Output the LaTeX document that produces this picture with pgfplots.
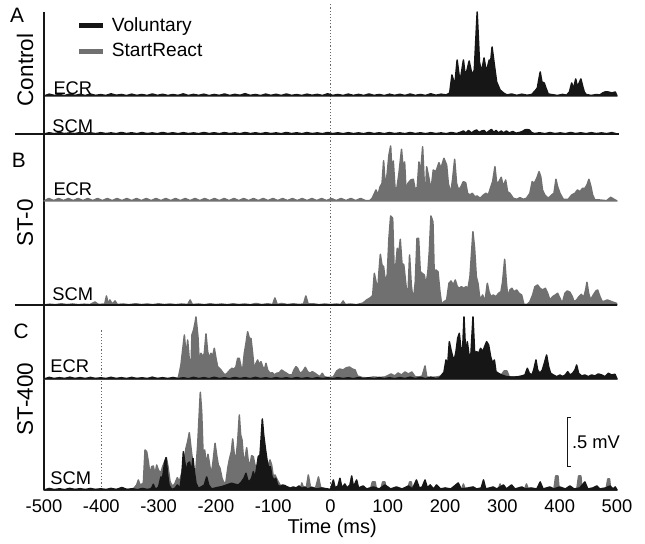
\documentclass[border=0pt]{standalone}
\usepackage{fontspec}
\setmainfont{Liberation Sans}
\usepackage{pgfplots}
\pgfplotsset{compat=1.18}
\definecolor{vol}{RGB}{22,22,22}
\definecolor{sr}{RGB}{112,112,112}
\begin{document}
\begin{tikzpicture}
\begin{axis}[
  x=0.3438pt, y=0.6pt,
  xmin=-500, xmax=500, ymin=0, ymax=478,
  axis x line*=bottom, axis y line*=left,
  axis line style={line width=0.8pt, vol},
  xtick={-500,-400,...,500}, ytick=\empty,
  major tick length=0pt,
  /pgf/number format/assume math mode=true,
  xticklabel style={font=\fontsize{11}{12}\selectfont, yshift=-2.5pt},
  xlabel={Time (ms)},
  xlabel style={font=\fontsize{12}{14}\selectfont, at={(axis description cs:0.503,-0.08)}, anchor=center},
  clip=false,
  legend style={at={(axis cs:-443,476)}, anchor=north west, draw=none, fill=none,
    font=\fontsize{11.5}{13}\selectfont, inner sep=0pt, row sep=1.5pt},
  legend cell align=left,
  legend image code/.code={\draw[#1, line width=3pt] (0pt,0pt) -- (14.4pt,0pt);},
  trace/.style={line width=0.9pt, line join=round, forget plot},
]
\path (axis cs:-576.8,-49) rectangle (axis cs:548.9,490);
\addlegendimage{vol}
\addlegendentry{\hspace{1.5pt}Voluntary}
\addlegendimage{sr}
\addlegendentry{\hspace{1.5pt}StartReact}

% dotted reference lines
\draw[vol!65, line width=0.7pt, dash pattern=on 0.7pt off 1.2pt] (axis cs:0,0) -- (axis cs:0,486);
\draw[vol!65, line width=0.7pt, dash pattern=on 0.7pt off 1.2pt] (axis cs:-400,0) -- (axis cs:-400,160);

% ---------------- A: Control, ECR (voluntary) ----------------
\addplot[trace, draw=vol, fill=vol] table[y expr=\thisrow{h}+394] {
t h
-500 0
-491 1.8
-482 0.6
-473 1.5
-464 0.4
-455 2
-446 0.6
-437 1.6
-428 0.5
-419 1.9
-410 0.6
-401 1.4
-392 0.5
-383 2.2
-374 0.7
-365 1.5
-356 0.4
-347 1.8
-338 0.6
-329 1.5
-320 0.5
-311 2
-302 0.6
-293 1.7
-284 0.5
-275 1.4
-266 0.6
-257 2.1
-248 0.5
-239 1.6
-230 0.6
-221 1.8
-212 0.4
-203 1.5
-194 0.6
-185 2
-176 0.5
-167 1.6
-158 0.7
-149 2.3
-140 0.6
-131 1.5
-122 0.4
-113 1.9
-104 0.6
-95 1.7
-86 0.5
-77 2
-68 0.6
-59 1.4
-50 0.5
-41 1.8
-32 0.7
-23 1.6
-14 0.5
-5 2.2
4 0.6
13 1.5
22 0.5
31 1.9
40 0.6
49 1.6
58 0.5
67 2
76 0.6
85 1.5
94 0.4
103 1.8
112 0.6
121 1.7
130 0.5
139 2
148 0.6
157 1.5
166 0.5
175 2.2
184 0.7
193 1.8
202 1
208 3
212 21
217 11
221 36
226 14
232 36
235.5 19
242 35
247 21
251 26
256 84
260 34
263.5 24
268 38
272 24
277 36
279 31
282 49
286 31
290 14
296 6
302 3
308 1
316 2
325 0.6
334 1.8
343 0.7
351 1.5
357 5
361 8
366 24
369 14
373 13
376 8
380 2
388 1.2
396 0.5
405 1.6
412 0.8
417 4
421 13
424 7
428 17
431 9
437 17
440.5 9
443 4
446 1.5
455 0.5
464 1.4
470 1
475 3
479 4
485 4
491 3
497 4
500 0
} -- cycle;

% ---------------- A: Control, SCM (voluntary) ----------------
\addplot[trace, draw=vol, fill=vol] table[y expr=\thisrow{h}+356] {
t h
-500 0
-491 1.2
-482 0.3
-473 1.4
-464 0.4
-455 1.1
-446 0.3
-437 1.5
-428 0.4
-419 1.2
-410 0.3
-401 1.3
-392 0.4
-383 1.1
-374 0.3
-365 1.5
-356 0.4
-347 1.2
-338 0.3
-329 1.4
-320 0.4
-311 1.1
-302 0.3
-293 1.5
-284 0.4
-275 1.2
-266 0.3
-257 1.3
-248 0.4
-239 1.1
-230 0.3
-221 1.5
-212 0.4
-203 1.2
-194 0.3
-185 1.4
-176 0.4
-167 1.1
-158 0.3
-149 1.5
-140 0.4
-131 1.2
-122 0.3
-113 1.3
-104 0.4
-95 1.1
-86 0.3
-77 1.5
-68 0.4
-59 1.2
-50 0.3
-41 1.4
-32 0.4
-23 1.1
-14 0.3
-5 1.5
4 0.4
13 1.2
22 0.3
31 1.3
40 0.4
49 1.1
58 0.3
67 1.5
76 0.4
85 1.2
94 0.3
103 1.4
112 0.4
121 1.1
130 0.3
139 1.5
148 0.4
157 1.2
166 0.3
175 1.3
184 0.4
193 1.1
202 0.3
211 1.5
220 0.4
228 2
232 3
236 1
241 3.5
246 1
251 3
255 4
259 1.5
264 3
268 3.5
272 1
277 3
281 4.5
285 1.5
289 3.5
293 1
298 3
302 1
307 3
312 1
318 2.5
324 0.8
330 1.5
335 2.5
339 4
343 4.5
347 4
351 1.5
356 0.4
365 1.2
374 0.3
383 1.4
392 0.4
401 1.1
410 0.3
419 1.5
428 0.4
437 1.2
446 0.3
455 1.3
464 0.4
473 1.1
482 0.3
491 1.4
500 0
} -- cycle;

% ---------------- B: ST-0, ECR (StartReact) ----------------
\addplot[trace, draw=sr, fill=sr] table[y expr=\thisrow{h}+289] {
t h
-500 0
-491.5 2.5
-483 0.4
-474.5 2.5
-466 0.4
-457.5 2.5
-449 0.4
-440.5 2.5
-432 0.4
-423.5 2.5
-415 0.4
-406.5 2.5
-398 0.4
-389.5 2.5
-381 0.4
-372.5 2.5
-364 0.4
-355.5 2.5
-347 0.4
-338.5 2.5
-330 0.4
-321.5 2.5
-313 0.4
-304.5 2.5
-296 0.4
-287.5 2.5
-279 0.4
-270.5 2.5
-262 0.4
-253.5 2.5
-245 0.4
-236.5 2.5
-228 0.4
-219.5 2.5
-211 0.4
-202.5 2.5
-194 0.4
-185.5 2.5
-177 0.4
-168.5 2.5
-160 0.4
-151.5 2.5
-143 0.4
-134.5 2.5
-126 0.4
-117.5 2.5
-109 0.4
-100.5 2.5
-92 0.4
-83.5 2.5
-75 0.4
-66.5 2.5
-58 0.4
-49.5 2.5
-41 0.4
-32.5 2.5
-24 0.4
-15.5 2.5
-7 0.4
1.5 2.5
10 0.4
18.5 2.5
27 0.4
35.5 2.5
44 0.4
52.5 2.5
61 0.4
69 0.5
73 3
79.4 11
83 6
86.4 14
90 17.7
92.7 40.3
95.7 14
99 27.7
102 46
105 55
107.3 27.7
109.6 40
112.5 14
115.4 11
119.5 27.7
124 51.7
127 31
129.4 39
131.7 11
135.2 17.7
140 21
144.5 21.7
148 11
151.5 14
154.4 39
157.3 27.7
160.8 54.3
163.7 17.7
165.5 3
167.8 34.3
171.3 24.3
175.4 11
179.4 31
184 29.3
189.3 38.3
192.8 32.7
198 42.7
202.7 36
205.6 17.7
209.7 7.7
213 21
216.7 41.7
220 17.7
223.6 11
227.7 14.3
231.8 19.3
235.9 18.3
239.3 7.7
243.4 6
247.5 7.7
252 4.3
256 5
261 2.7
267 6
271.3 7.7
275.4 6
280 14.3
283 19.3
287 34.3
290 17.7
294 19.3
298 23.7
301.6 14.3
305.7 21
309 9.3
313 7.7
319 2.7
325 1.7
330.7 3.3
336.5 1.7
342 2.7
348 7.7
352 19.3
355.7 17.7
360 22.7
364 29.3
367 24.3
370 11
374 6
380 2.7
386 6
390 7.7
393.5 21.7
396.4 14.3
400.5 7.7
406.3 1.7
415 1.7
421 6
426.6 7.7
431 11
435.4 9.3
440 12.7
444 12.7
447.6 16
451 21.7
454.6 14.3
457.5 6
461.5 1
470 1
482 0.3
489 3.7
494.7 1.7
500 0
} -- cycle;

% ---------------- B: ST-0, SCM (StartReact) ----------------
\addplot[trace, draw=sr, fill=sr] table[y expr=\thisrow{h}+185] {
t h
-500 0
-490 0.8
-480 0.3
-470 1.2
-460 0.4
-450 1
-440 0.3
-430 0.8
-420 0.4
-411 3
-405 0.5
-394 1
-391 9
-388 1
-385 5
-381 1
-376 4
-372 0.5
-362 1
-352 0.3
-340 1.2
-330 0.4
-320 1
-310 0.3
-300 1.2
-290 0.4
-280 1
-270 0.3
-260 1
-249 0.5
-245 5
-241 0.5
-230 1
-220 0.3
-210 1.2
-200 0.4
-190 1
-180 0.3
-170 1.2
-160 0.4
-150 1
-140 0.3
-130 1.5
-120 0.4
-110 1.2
-101 0.5
-97 7
-93 0.5
-85 1.5
-75 0.4
-65 1.2
-55 0.5
-47 1
-43 9
-39 1
-30 1.2
-20 0.3
-10 1
0 0.4
10 1
18 0.5
22 4
26 0.5
35 1
45 0.3
52 1.2
57 2
63 5
69 7
73.6 9.3
76.5 31.7
79.4 23.3
82.3 13.3
84.6 33.3
87 50.7
89.8 40
92.7 38.3
95.7 23.3
99 30
102 66.7
105 89
108.5 86.7
111.4 30
114.3 41.7
116.6 56.7
119.5 53.3
121.8 65.7
124.7 41.7
128 40
131.7 20
134.6 1.7
138 50
141 20
144.5 3.3
148 23.3
151 66.7
153.8 66.7
156.7 33.3
160 31.7
163.7 30
166.6 20
170 33.3
172.4 53.3
175.3 89
178.8 83.3
181.2 28.3
184 35
187.6 33.3
191 13.3
194 0.5
198 3.3
202.7 5
206.8 21.7
210.3 24
214.3 20
217.8 25
221.3 18.3
224.8 16.7
228.3 18.3
233 16.7
236.4 18.3
240 16.7
243.4 28.3
246.3 53.3
248.6 73.3
251.5 56.7
254.5 28.3
257.4 21.7
261 5
265.5 10
269.6 3.3
273.7 21.7
276.6 13.3
280 8.3
284 10
288.8 8.3
293.4 11.7
297.5 13.3
300.4 23.3
304 45.7
306.8 23.3
309.7 6.7
313 15
316.7 16.7
320 13.3
324.9 15
329 11.7
333.6 10
337.6 0.5
343.5 0.7
348 3.3
352.8 10
356.8 18.3
361.5 20
365.6 16.7
370.2 15
375 16.7
379 11.7
383 5
387.7 8.3
392.3 10
396.4 11.7
400.5 6.7
404.5 1.7
409.2 11.7
413.3 14
418 12.7
422 8.3
425 3.3
429.6 5
433.6 8.3
437.7 10.7
441.8 7.3
445.3 15
447.6 22.7
450.5 11.7
454 5
458.6 10
463.3 14
466.2 15
470.3 8.3
474.3 3.3
479 4
483 5
487.7 4
493.5 2.7
499 1.7
500 0
} -- cycle;

% ---------------- C: ST-400, ECR (StartReact) ----------------
\addplot[trace, draw=sr, fill=sr] table[y expr=\thisrow{h}+111] {
t h
-500 0
-480 0.5
-400 0.5
-300 0.5
-266 0.5
-263.9 5.7
-261 14
-258 29
-255 44
-252 22.3
-249.3 39
-246.4 19
-244 2.3
-241.8 44
-238.9 49
-236 57.3
-234.8 62
-231.3 42.3
-229 15.7
-226 25.7
-223 22.3
-220.2 25.7
-217.3 45
-214.4 27.3
-211.5 20.7
-208.6 25.7
-205.7 22.3
-202.8 30.7
-199.9 20.7
-197 12.3
-194 10.7
-191.2 9
-187 5.7
-183.6 4
-179.5 6.3
-175.4 9
-172 10.7
-168.5 9.7
-165 12.3
-162 20.7
-159.2 20.7
-156.2 12.3
-153.3 9
-150.4 25.7
-147.5 35.7
-144.6 47.3
-141.7 40.7
-138.8 40.7
-135.9 25.7
-133 9
-130 15.7
-127.2 19
-124.2 14
-121.3 17.3
-118.4 12.3
-115.5 9
-112.6 15.7
-109.7 9
-105.6 5.7
-101.6 6.3
-98 4
-94 5.7
-89.4 6.3
-85.3 9
-81.2 7.3
-76.6 5.7
-72 4
-67.2 4
-63.8 9
-60.3 12.3
-57.4 10.7
-53.3 5.7
-48.6 7.3
-44 11.7
-39.9 7.3
-35.8 5.7
-31.8 7.3
-27.1 5.7
-23 4
-18.4 2.3
-14.3 5.7
-10.8 2.3
-6.7 1.7
-1 1.7
5 2
11 8
16 10
22 9
27 11
33 12
38 10
43 9
47 3
55 1.5
65 1
75 2
85 1.5
95 2
106 5
112 3
118 6
124 4
130 7
136 5
142 7
148 2
155 2
160 3
165 13
168 2
175 1.5
185 2
195 3
290 3
297 3
303 8
308 8
312 2
330 2
350 3
370 4
390 2
410 3
430 3
450 2
470 2
490 2
500 0
} -- cycle;

% ---------------- C: ST-400, ECR (voluntary) ----------------
\addplot[trace, draw=vol, fill=vol] table[y expr=\thisrow{h}+111] {
t h
-500 0
-491 1.6
-482 0.4
-473 1.3
-464 0.4
-455 1.8
-446 0.4
-437 1.4
-428 0.3
-419 1.6
-410 0.4
-401 1.2
-392 0.3
-383 1.7
-374 0.4
-365 1.3
-356 0.3
-347 1.6
-338 0.4
-329 1.2
-320 0.3
-311 1.8
-302 0.4
-293 1.3
-284 0.3
-275 1.5
-266 0.4
-257 1.2
-248 0.3
-239 1.6
-230 0.4
-221 1.3
-212 0.3
-203 1.7
-194 0.4
-185 1.2
-176 0.3
-167 1.5
-158 0.4
-149 1.3
-140 0.3
-131 1.6
-122 0.4
-113 1.2
-104 0.3
-95 1.3
-86 0.4
-77 1.2
-68 0.3
-59 1.4
-50 0.4
-41 1.2
-32 0.3
-23 1.3
-14 0.4
-5 1.2
4 0.3
13 1.3
22 0.4
31 1.2
40 0.3
49 1.4
58 0.4
67 1.2
76 0.3
85 1.3
94 0.4
103 1.2
112 0.3
121 1.4
130 0.4
139 1.8
148 0.4
157 1.6
166 0.3
175 1.8
184 0.4
190 1
194 4
198 6.7
201.6 19
203.9 9
207.4 37.3
210.3 29
213.2 22.3
216.1 19
219 27.3
222 40.7
224.8 45.7
227.2 32.3
230 20.7
233 62
235.9 25.7
238.8 37.3
241.7 24
245 24
248.7 62
251.6 25.7
255 27.3
258.6 25.7
262 30.7
265.6 27.3
269 32.3
272.5 37.3
276 34
279.5 22.3
283 15.7
286 19
288.8 7.3
293 5.7
298.7 4
307.4 2.3
319 1.7
327.8 2.3
333.6 3
339.4 4
343.5 10.7
347 5.7
351.6 4
355 9.7
358.6 19
361.5 9
365.6 5.7
369.7 9
373.2 15.7
377.2 24
380.7 12.3
384.2 5.7
389 4
394.7 2.3
400.5 4
405 2.3
409.8 4
414 7.3
418 4
422.6 5.7
426.7 9
429.6 14
433 5.7
438.3 3
444 4
450 2.3
455.8 4
461.6 3
467.4 5
473.2 4
479 2.3
485 5.7
490.7 4
496.5 4.7
500 0
} -- cycle;

% ---------------- C: ST-400, SCM (StartReact) ----------------
\addplot[trace, draw=sr, fill=sr] table[y expr=\thisrow{h}] {
t h
-500 0
-450 0.5
-400 0.5
-345 0.5
-338.3 5
-335.4 10
-332.5 5
-326.6 6.7
-323.7 40
-320.8 38.3
-317.9 28.3
-315 15
-312.1 23.3
-309.2 24
-306.3 15
-303.4 25
-300.4 20
-296.4 16.7
-292.9 23.3
-289.4 28.3
-286.5 32.3
-283.6 23.3
-280 8.3
-275.4 3.3
-271.4 6.7
-267.3 12.3
-263.8 8.3
-259.7 16.7
-255.7 28.3
-252.2 41.7
-249.3 48.3
-246.4 57.3
-243.4 41.7
-240.5 28.3
-237.6 15
-234.7 21.7
-231.8 45
-228.9 78.3
-227.2 97.7
-224.8 78.3
-222.5 38.3
-219.6 40
-216.7 25
-213.8 35.7
-210.9 25
-208 15
-205 28.3
-201.5 46.7
-198.7 35
-195.8 25
-192.9 21.7
-189.3 11.7
-185.9 6.7
-182.4 8.3
-178.9 23.3
-176 31.7
-173 38.3
-170.7 51
-167.8 35
-164.9 31.7
-162 48.3
-159.1 75
-156.8 55
-154.4 50
-151.5 28.3
-148.6 33.3
-146.3 42.3
-143.4 28.3
-140.5 25
-137.6 34.3
-134.7 33.3
-131.8 25
-128.9 21.7
-126 28.3
-123 30
-120.1 33.3
-117.2 25
-112.6 20
-108.5 25
-105.6 30
-102.7 25
-99.8 13.3
-96.9 15
-92.8 10
-88.1 5
-79.4 3.3
-70.7 2.3
-60 1
-52 2
-50 7
-47 2
-42 3
-38.7 15
-35 3
-26 2
-21 13
-17 2
-10 1
0 0.5
10 1
70 1
73 8
78 8
80 1
88 1
91 8
95 8
97 1
135 1
138 8
141 8
143 1
229 1
232 6
235 1
293 1
296 6
299 1
339 1
342 6
345 1
390 1
393 14
397 14
399 1
430 1
433 14
437 14
439 1
481 1
484 11
487 11
489 1
500 0
} -- cycle;

% ---------------- C: ST-400, SCM (voluntary) ----------------
\addplot[trace, draw=vol, fill=vol] table[y expr=\thisrow{h}] {
t h
-500 0
-491 1.5
-482 0.4
-473 1.2
-464 0.3
-455 1.6
-446 0.4
-437 1.3
-428 0.3
-419 1.5
-410 0.4
-401 1.2
-392 0.3
-383 1.6
-374 0.4
-364 2.5
-355 0.4
-346 1.3
-337 0.3
-328 1.5
-320 0.5
-315 1
-312 2
-309.2 5.7
-306.8 2
-304 1
-300 3
-296 13
-293 12
-289.4 27.7
-287 32.3
-284.2 15
-281.8 5
-277.2 0.5
-271.4 1.7
-267.3 5
-262.6 1.7
-259.2 16.7
-256.8 38.3
-254.5 28.3
-251.6 18.3
-248.7 26.7
-245.8 28
-242.9 16.7
-240 31.7
-237.6 18.3
-234.7 6.7
-230.6 1.7
-224.8 3.3
-220.2 5
-216.1 13
-212.6 5
-207.4 1
-198.7 2.3
-189.9 3.3
-181.2 5
-172.5 6.7
-166.7 5.7
-160.8 5
-155 8.3
-151 11.7
-147.5 16.7
-144.6 10
-141.7 8.3
-137.6 11.7
-134.7 18.3
-131.8 11.7
-128.9 21.7
-126 33.3
-123 35
-120.7 55
-119 71
-116.6 55
-113.7 41.7
-110.8 30
-107.9 21.7
-105 23.3
-102.1 13.3
-98.6 10
-95.7 11.7
-92.2 5
-88.1 3.3
-83.5 5
-79.4 4.3
-75.3 3
-70.7 1.7
-65 3
-60 2
-55 4
-50 1.5
-45 3
-40 1
-33 2.5
-25 1
-15 2
-5 1
0 0.5
5 10
8 2
13 4
16.5 11.7
20 2
25 6
29 2
34 5
37 14
40 3
45.6 10
49 2
57 4
63 1
75 3
85 1
95 5
105 1
115 3
125 1
136 4
143 1
150 10
155 2
160 3
165 10
169 2
174 5
180 1
185 5
192 1
200 2
210 1
223 7
228 1
240 2
249 3
255 1
263 2
267 10
271 1
284 3
290 1
302 5
307 1
316 5
322 1
334 3
340 1
350 2
360 1
366 8
371 1
383 3
390 1
400 3
410 1
418 4
425 1
435 2
444 8
449 1
458 2
465 4
470 1
480 2
488 4
493 1
497 3
500 0
} -- cycle;

% panel separator lines (bottoms of panels A and B)
\draw[vol, line width=0.8pt] (axis cs:-551,356) -- (axis cs:503,356);
\draw[vol, line width=0.8pt] (axis cs:-551,185) -- (axis cs:500,185);

% scale bar
\draw[vol, line width=0.6pt] (axis cs:419.7,72) -- (axis cs:414.5,72) -- (axis cs:414.5,23) -- (axis cs:419.7,23);
\node[anchor=west, inner sep=0pt, font=\fontsize{11}{12}\selectfont] at (axis cs:421,47.5) {.5 mV};

% panel letters and condition labels
\node[font=\fontsize{12.5}{14}\selectfont] at (axis cs:-547,475) {A};
\node[font=\fontsize{12.5}{14}\selectfont] at (axis cs:-544,330) {B};
\node[font=\fontsize{12.5}{14}\selectfont] at (axis cs:-540,159) {C};
\node[rotate=90, font=\fontsize{13.5}{15}\selectfont] at (axis cs:-533,420) {Control};
\node[rotate=90, font=\fontsize{13.5}{15}\selectfont] at (axis cs:-533,267) {ST-0};
\node[rotate=90, font=\fontsize{13.5}{15}\selectfont] at (axis cs:-533,91) {ST-400};

% muscle labels
\node[anchor=west, inner sep=0pt, font=\fontsize{11}{12}\selectfont] at (axis cs:-484,401.5) {ECR};
\node[anchor=west, inner sep=0pt, font=\fontsize{11}{12}\selectfont] at (axis cs:-486,363.5) {SCM};
\node[anchor=west, inner sep=0pt, font=\fontsize{11}{12}\selectfont] at (axis cs:-484,301) {ECR};
\node[anchor=west, inner sep=0pt, font=\fontsize{11}{12}\selectfont] at (axis cs:-486,196) {SCM};
\node[anchor=west, inner sep=0pt, font=\fontsize{11}{12}\selectfont] at (axis cs:-489.5,123.5) {ECR};
\node[anchor=west, inner sep=0pt, font=\fontsize{11}{12}\selectfont] at (axis cs:-489.5,12) {SCM};
\end{axis}
\end{tikzpicture}
\end{document}
